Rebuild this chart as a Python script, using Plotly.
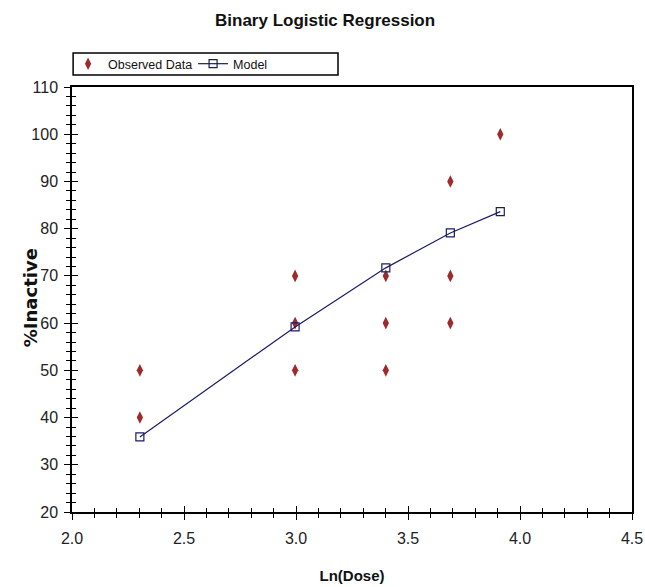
import plotly.graph_objects as go

# Data
obs_x = [2.303, 2.303, 2.996, 2.996, 2.996, 3.401, 3.401, 3.401, 3.689, 3.689, 3.689, 3.912]
obs_y = [50, 40, 70, 60, 50, 70, 60, 50, 90, 70, 60, 100]
model_x = [2.303, 2.996, 3.401, 3.689, 3.912]
model_y = [35.9, 59.2, 71.7, 79.1, 83.6]
x_ticks = [2.0, 2.5, 3.0, 3.5, 4.0, 4.5]
x_ticklabels = ["2.0", "2.5", "3.0", "3.5", "4.0", "4.5"]
y_ticks = [20, 30, 40, 50, 60, 70, 80, 90, 100, 110]

NARROW = "Liberation Sans Narrow, Arial Narrow, Liberation Sans, Arial, sans-serif"

fig = go.Figure()
fig.add_trace(go.Scatter(
    x=obs_x, y=obs_y, mode="markers", name="Observed Data",
    marker=dict(symbol="diamond-tall", size=9, color="#9E2A2B"),
))
fig.add_trace(go.Scatter(
    x=model_x, y=model_y, mode="lines+markers", name="Model",
    line=dict(color="#1C1C66", width=1.2),
    marker=dict(symbol="square-open", size=8, color="#1C1C66", line=dict(width=1.2)),
))
# invisible traces to activate the overlay axes (inside tick halves)
fig.add_trace(go.Scatter(x=[x_ticks[0]], y=[y_ticks[0]], xaxis="x2", yaxis="y", mode="markers",
                         marker=dict(opacity=0), showlegend=False, hoverinfo="skip"))
fig.add_trace(go.Scatter(x=[x_ticks[0]], y=[y_ticks[0]], xaxis="x", yaxis="y2", mode="markers",
                         marker=dict(opacity=0), showlegend=False, hoverinfo="skip"))

common_x = dict(range=[2.0, 4.5], tickvals=x_ticks, showgrid=False, zeroline=False, automargin=False)
common_y = dict(range=[20, 110], tickvals=y_ticks, showgrid=False, zeroline=False, automargin=False)

fig.update_layout(
    width=645, height=587,
    margin=dict(l=72, r=13, t=87, b=75),
    paper_bgcolor="white", plot_bgcolor="white",
    title=dict(text="<b>Binary Logistic Regression</b>", x=0.504, xanchor="center",
               y=0.966, yanchor="middle", font=dict(family=NARROW, size=17, color="#111")),
    xaxis=dict(**common_x, ticktext=x_ticklabels, showline=True, linecolor="black", linewidth=1.5,
               mirror=True, ticks="outside", ticklen=6, tickwidth=1.2, tickcolor="black",
               minor=dict(ticks="outside", ticklen=4, dtick=0.1, tickcolor="black", tickwidth=1),
               tickfont=dict(family=NARROW, size=16, color="#222"), ticklabelstandoff=5,
               ticklabeloverflow="allow",
               title=dict(text="<b>Ln(Dose)</b>", font=dict(family=NARROW, size=15, color="#111"), standoff=25)),
    yaxis=dict(**common_y, showline=True, linecolor="black", linewidth=1.5,
               mirror=True, ticks="outside", ticklen=6, tickwidth=1.2, tickcolor="black",
               minor=dict(ticks="outside", ticklen=4, dtick=2, tickcolor="black", tickwidth=1),
               tickfont=dict(family=NARROW, size=16, color="#222"), ticklabelstandoff=3),
    xaxis2=dict(**common_x, overlaying="x", side="bottom", anchor="y", showticklabels=False, showline=False,
                ticks="inside", ticklen=6, tickwidth=1.2, tickcolor="black",
                minor=dict(ticks="inside", ticklen=4, dtick=0.1, tickcolor="black", tickwidth=1)),
    yaxis2=dict(**common_y, overlaying="y", side="left", anchor="x", showticklabels=False, showline=False,
                ticks="inside", ticklen=6, tickwidth=1.2, tickcolor="black",
                minor=dict(ticks="inside", ticklen=4, dtick=2, tickcolor="black", tickwidth=1)),
    legend=dict(orientation="h", x=-0.007, xanchor="left", y=1.054, yanchor="middle",
                borderwidth=0, bgcolor="rgba(0,0,0,0)",
                font=dict(family=NARROW, size=12.5, color="#111"),
                entrywidth=80, entrywidthmode="pixels", itemwidth=30, tracegroupgap=0),
    showlegend=True,
    annotations=[dict(text="<b>%Inactive</b>", textangle=-90, xref="paper", yref="paper",
                      x=-0.075, y=0.503, xanchor="center", yanchor="middle", showarrow=False,
                      font=dict(family="DejaVu Sans, Verdana, sans-serif", size=18, color="#111"))],
    shapes=[dict(type="rect", xref="paper", yref="paper", x0=0.002, x1=0.475, y0=1.0282, y1=1.08,
                 line=dict(color="black", width=1.5), fillcolor="rgba(0,0,0,0)", layer="above")],
)

fig.write_html("out.html", config={"displayModeBar": False},
               post_script="document.body.style.margin='0';document.body.style.overflow='hidden';")
